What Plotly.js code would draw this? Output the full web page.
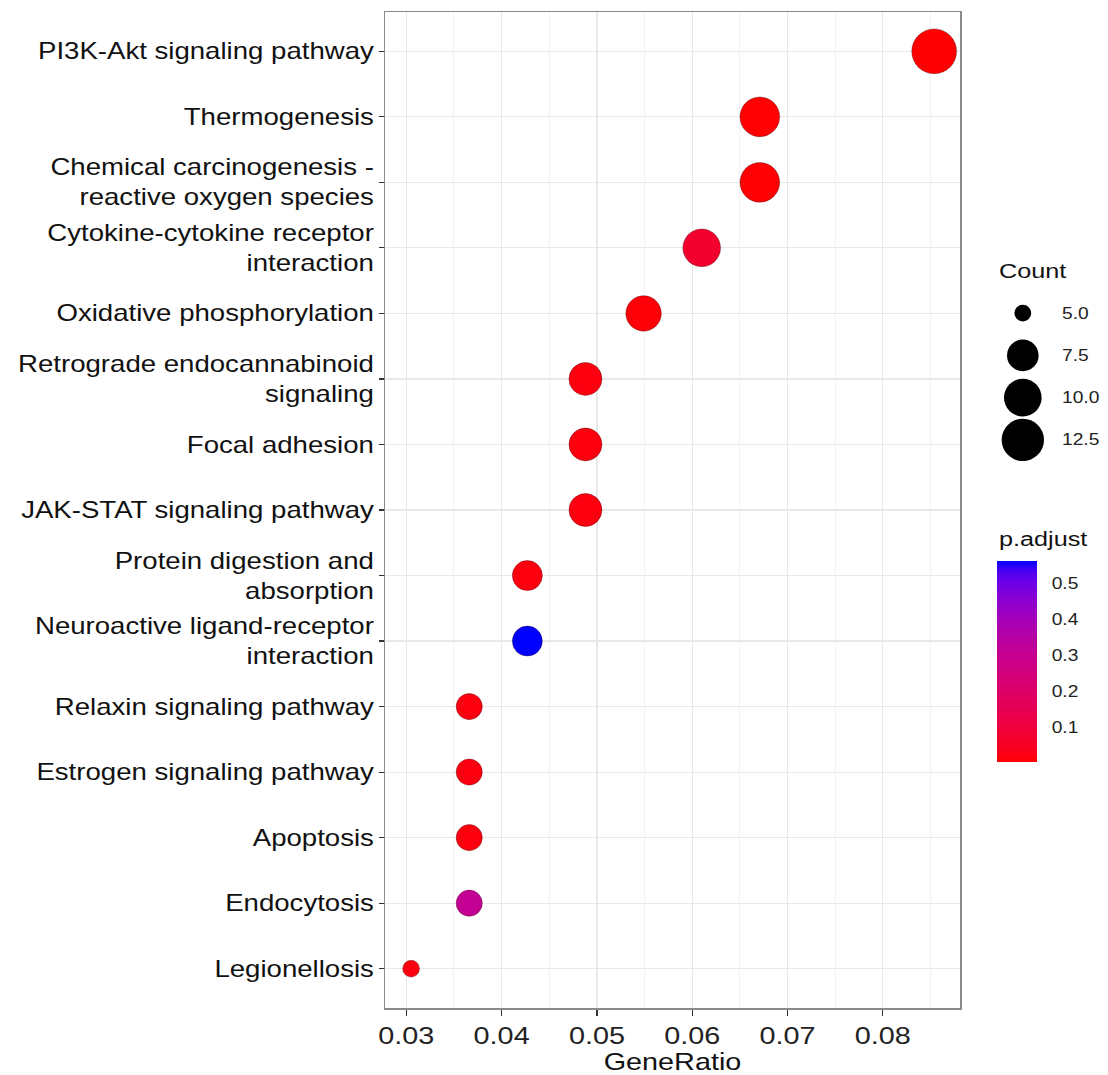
<!DOCTYPE html>
<html><head><meta charset="utf-8">
<script src="https://cdn.plot.ly/plotly-3.0.1.min.js"></script>
<style>body{margin:0;background:#fff}#chart{width:1108px;height:1075px}</style>
</head><body><div id="chart"></div>
<script>
// ---- data ----
const pathways = [
  "PI3K-Akt signaling pathway",
  "Thermogenesis",
  "Chemical carcinogenesis -<br>reactive oxygen species",
  "Cytokine-cytokine receptor<br>interaction",
  "Oxidative phosphorylation",
  "Retrograde endocannabinoid<br>signaling",
  "Focal adhesion",
  "JAK-STAT signaling pathway",
  "Protein digestion and<br>absorption",
  "Neuroactive ligand-receptor<br>interaction",
  "Relaxin signaling pathway",
  "Estrogen signaling pathway",
  "Apoptosis",
  "Endocytosis",
  "Legionellosis"
];
const geneRatio = [0.0854, 0.0671, 0.0671, 0.0610, 0.0549, 0.0488, 0.0488, 0.0488, 0.0427, 0.0427, 0.0366, 0.0366, 0.0366, 0.0366, 0.0305];
const counts    = [14, 11, 11, 10, 9, 8, 8, 8, 7, 7, 6, 6, 6, 6, 5];
const pAdjust   = [0.005, 0.006, 0.006, 0.07, 0.01, 0.02, 0.02, 0.02, 0.02, 0.561, 0.02, 0.02, 0.02, 0.31, 0.02];
const xTicks    = [0.03, 0.04, 0.05, 0.06, 0.07, 0.08];
const countLegend = [5.0, 7.5, 10.0, 12.5];
const pTicks    = [0.1, 0.2, 0.3, 0.4, 0.5];

// ---- scales / styling helpers ----
const cMin = 0.003, cMax = 0.561;
const sMin = 5, sMax = 14;
function sizeOf(c){ const t = Math.max(0,(c - sMin)/(sMax - sMin)); return 5.6*(3 + 5*Math.sqrt(t)); }

function srgb2lin(c){ c/=255; return c<=0.04045? c/12.92 : Math.pow((c+0.055)/1.055,2.4); }
function lin2srgb(c){ c = c<=0.0031308? 12.92*c : 1.055*Math.pow(c,1/2.4)-0.055; return Math.round(Math.min(1,Math.max(0,c))*255); }
function rgb2lab(r,g,b){
  const R=srgb2lin(r),G=srgb2lin(g),B=srgb2lin(b);
  let X=(0.4124*R+0.3576*G+0.1805*B)/0.95047, Y=(0.2126*R+0.7152*G+0.0722*B), Z=(0.0193*R+0.1192*G+0.9505*B)/1.08883;
  const f=t=> t>0.008856? Math.cbrt(t) : 7.787*t+16/116;
  const fx=f(X),fy=f(Y),fz=f(Z);
  return [116*fy-16, 500*(fx-fy), 200*(fy-fz)];
}
function lab2rgb(L,a,b){
  const fy=(L+16)/116, fx=fy+a/500, fz=fy-b/200;
  const inv=t=> t*t*t>0.008856? t*t*t : (t-16/116)/7.787;
  const X=inv(fx)*0.95047, Y=inv(fy), Z=inv(fz)*1.08883;
  const r= 3.2406*X-1.5372*Y-0.4986*Z, g=-0.9689*X+1.8758*Y+0.0415*Z, bb=0.0557*X-0.2040*Y+1.0570*Z;
  return 'rgb('+lin2srgb(r)+','+lin2srgb(g)+','+lin2srgb(bb)+')';
}
const labLo = rgb2lab(255,0,0), labHi = rgb2lab(0,0,255);
const colorscale = [];
for(let i=0;i<=20;i++){
  const t=i/20;
  colorscale.push([t, lab2rgb(labLo[0]+(labHi[0]-labLo[0])*t, labLo[1]+(labHi[1]-labLo[1])*t, labLo[2]+(labHi[2]-labLo[2])*t)]);
}

const FONT = "Liberation Sans, Arial, sans-serif";
const STRETCH = 1.2;   // reference text is rendered horizontally wide
const W=1108, H=1075, ml=385, mr=10, mt=12, mb=67;
const pw = W-ml-mr, ph = H-mt-mb;
const px = x => (x-ml)/pw;          // pixel -> paper x
const py = y => (H-mb-y)/ph;        // pixel -> paper y

const main = {
  type:'scatter', mode:'markers',
  x: geneRatio, y: pathways,
  xaxis:'x', yaxis:'y',
  marker:{
    size: counts.map(sizeOf), sizemode:'diameter',
    color: pAdjust, cmin:cMin, cmax:cMax, colorscale: colorscale,
    line:{width:1, color:'rgba(60,0,0,0.35)'},
    opacity:1,
    colorbar:{
      x: px(997), xanchor:'left', xref:'paper',
      y: py(661.5), yanchor:'middle', yref:'paper',
      len: 201, lenmode:'pixels', thickness: 40, thicknessmode:'pixels',
      outlinewidth:0, tickvals: pTicks, ticktext: pTicks.map(v=>v.toFixed(1)),
      ticks:'outside', ticklen:12, tickcolor:'rgba(255,255,255,0)', tickwidth:1,
      tickfont:{family:FONT, size:16, color:'#222'}, xpad:0, ypad:0
    }
  },
  showlegend:false, hoverinfo:'x+y'
};

const legendDots = {
  type:'scatter', mode:'markers',
  x: countLegend.map(()=>0.27), y: countLegend.map((v,i)=>i),
  xaxis:'x2', yaxis:'y2',
  marker:{size: countLegend.map(sizeOf), color:'rgb(0,0,0)', opacity:1, line:{width:0, color:'rgb(0,0,0)'}},
  opacity:1,
  showlegend:false, hoverinfo:'skip'
};

const annotations = countLegend.map((v,i)=>({
  xref:'x2', yref:'y2', x:0.63, y:i, text:v.toFixed(1), showarrow:false,
  xanchor:'left', yanchor:'middle', font:{family:FONT, size:16, color:'#222'}
}));
annotations.push({xref:'paper', yref:'paper', x:px(997), y:py(270), text:'Count', showarrow:false,
  xanchor:'left', yanchor:'middle', font:{family:FONT, size:21, color:'#111'}});
annotations.push({xref:'paper', yref:'paper', x:px(997), y:py(538), text:'p.adjust', showarrow:false,
  xanchor:'left', yanchor:'middle', font:{family:FONT, size:21, color:'#111'}});

const layout = {
  width:W, height:H,
  margin:{l:ml, r:mr, t:mt, b:mb, pad:0},
  paper_bgcolor:'#fff', plot_bgcolor:'#fff',
  font:{family:FONT, color:'#111'},
  xaxis:{
    domain:[0, (960-ml)/pw], range:[0.02776, 0.08811],
    tickvals: xTicks, ticktext: xTicks.map(v=>v.toFixed(2)),
    ticks:'outside', ticklen:6, tickcolor:'#333', tickwidth:1.2,
    tickfont:{family:FONT, size:24, color:'#222'},
    showgrid:true, gridcolor:'#e8e8e8', gridwidth:1.2,
    minor:{dtick:0.005, tick0:0.025, showgrid:true, gridcolor:'#f0f0f0', gridwidth:0.8, ticks:''},
    showline:true, mirror:true, linecolor:'#8a8a8a', linewidth:1.5,
    zeroline:false, anchor:'y',
    title:{text:'GeneRatio', font:{family:FONT, size:24, color:'#111'}, standoff:4}
  },
  yaxis:{
    domain:[0,1], type:'category', categoryorder:'array', categoryarray: pathways,
    range:[14.6, -0.6],
    ticks:'outside', ticklen:5, tickcolor:'#333', tickwidth:1.2,
    tickfont:{family:FONT, size:23, color:'#111'},
    showgrid:true, gridcolor:'#e8e8e8', gridwidth:1.2,
    showline:true, mirror:true, linecolor:'#8a8a8a', linewidth:1.5,
    zeroline:false, anchor:'x', automargin:false
  },
  xaxis2:{domain:[px(995), px(1098)], range:[0,1], visible:false, anchor:'y2', fixedrange:true},
  yaxis2:{domain:[py(461), py(292)], range:[3.5,-0.5], visible:false, anchor:'x2', fixedrange:true},
  annotations: annotations,
  showlegend:false
};

function stretchText(gd){
  const apply = (el, mode) => {
    let bb; try { bb = el.getBBox(); } catch(e){ return; }
    if(!bb || !bb.width) return;
    let ax;
    if(mode==='left') ax = bb.x;
    else if(mode==='right') ax = bb.x + bb.width;
    else ax = bb.x + bb.width/2;
    const t = el.getAttribute('transform') || '';
    el.setAttribute('transform', (t+' translate('+ax+',0) scale('+STRETCH+',1) translate('+(-ax)+',0)').trim());
  };
  gd.querySelectorAll('.ytick text').forEach(el=>apply(el,'right'));
  gd.querySelectorAll('.xtick text').forEach(el=>apply(el,'center'));
  gd.querySelectorAll('.xtitle').forEach(el=>apply(el,'center'));
  gd.querySelectorAll('.annotation-text').forEach(el=>apply(el,'left'));
  gd.querySelectorAll('.colorbar .cbaxis text, .colorbar text').forEach(el=>{
    if(!el.__str){ el.__str=true; apply(el,'left'); }
  });
}

Plotly.newPlot('chart', [main, legendDots], layout, {displayModeBar:false, staticPlot:true})
  .then(gd => stretchText(gd));
</script>
</body></html>
